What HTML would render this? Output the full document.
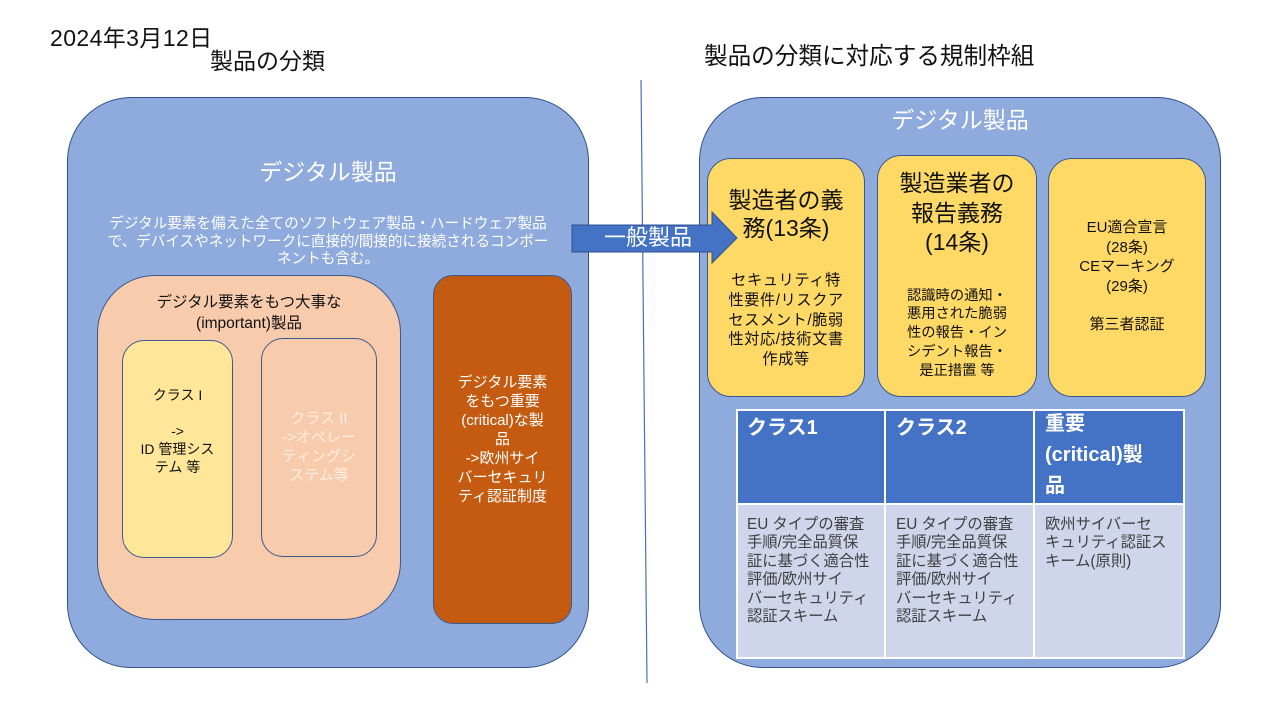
<!DOCTYPE html>
<html>
<head>
<meta charset="utf-8">
<style>
  html, body { margin:0; padding:0; }
  body { width:1280px; height:720px; position:relative; overflow:hidden; background:#ffffff;
         font-family:"Liberation Sans","Noto Sans CJK JP",sans-serif; }
  .abs { position:absolute; box-sizing:border-box; }
  .t { position:absolute; text-align:center; white-space:nowrap; }
  .big { background:#8faadc; border:1px solid #2f528f; border-radius:64px; }
  .ybox { background:#ffd966; border:1px solid #3b5a8c; border-radius:24px; }
  .cell { position:absolute; box-sizing:border-box; }
</style>
</head>
<body>

<!-- titles -->
<div class="t" style="left:50px;top:24px;font-size:23px;line-height:28px;color:#111;letter-spacing:0.4px;">2024年3月12日</div>
<div class="t" style="left:210px;top:47px;font-size:23px;line-height:28px;color:#111;">製品の分類</div>
<div class="t" style="left:704px;top:43px;font-size:23.6px;line-height:28px;color:#111;">製品の分類に対応する規制枠組</div>

<!-- divider line -->
<svg class="abs" style="left:0;top:0;" width="1280" height="720">
  <line x1="641" y1="80" x2="647" y2="683" stroke="#4a72b8" stroke-width="1.2"/>
</svg>

<!-- LEFT BIG BOX -->
<div class="abs big" style="left:67px;top:97px;width:522px;height:571px;"></div>
<div class="t" style="left:67px;width:522px;top:158px;font-size:23px;line-height:28px;color:#fff;">デジタル製品</div>
<div class="t" style="left:67px;width:522px;top:216px;font-size:14.6px;line-height:17.5px;color:#fff;">デジタル要素を備えた全てのソフトウェア製品・ハードウェア製品<br>で、デバイスやネットワークに直接的/間接的に接続されるコンポー<br>ネントも含む。</div>

<!-- peach box -->
<div class="abs" style="left:97px;top:275px;width:304px;height:345px;background:#f8cbad;border:1px solid #3b5a8c;border-radius:58px;"></div>
<div class="t" style="left:97px;width:304px;top:291.5px;font-size:15.5px;line-height:21px;color:#111;">デジタル要素をもつ大事な<br>(important)製品</div>

<!-- class I -->
<div class="abs" style="left:122px;top:340px;width:111px;height:218px;background:#ffe699;border:1px solid #3b5a8c;border-radius:22px;"></div>
<div class="t" style="left:122px;width:111px;top:386px;font-size:14px;line-height:18px;color:#111;">クラス I<br>&nbsp;<br>-&gt;<br>ID 管理シス<br>テム 等</div>

<!-- class II -->
<div class="abs" style="left:261px;top:338px;width:116px;height:219px;background:#f8cbad;border:1px solid #3b5a8c;border-radius:22px;"></div>
<div class="t" style="left:261px;width:116px;top:408.5px;font-size:15px;line-height:19px;color:#fdeee4;">クラス II<br>-&gt;オペレー<br>ティングシ<br>ステム等</div>

<!-- orange critical -->
<div class="abs" style="left:433px;top:275px;width:139px;height:349px;background:#c55a11;border:1px solid #3b5a8c;border-radius:20px;"></div>
<div class="t" style="left:433px;width:139px;top:372.5px;font-size:15px;line-height:19px;color:#fff;">デジタル要素<br>をもつ重要<br>(critical)な製<br>品<br>-&gt;欧州サイ<br>バーセキュリ<br>ティ認証制度</div>

<!-- RIGHT BIG BOX -->
<div class="abs big" style="left:699px;top:97px;width:522px;height:571px;"></div>
<div class="t" style="left:699px;width:522px;top:106px;font-size:23px;line-height:28px;color:#fff;">デジタル製品</div>

<!-- yellow 1 -->
<div class="abs ybox" style="left:707px;top:158px;width:158px;height:239px;"></div>
<div class="t" style="left:707px;width:158px;top:186px;font-size:23px;line-height:28px;color:#111;">製造者の義<br>務(13条)</div>
<div class="t" style="left:707px;width:158px;top:271px;font-size:15.3px;line-height:19.8px;color:#111;letter-spacing:0.5px;">セキュリティ特<br>性要件/リスクア<br>セスメント/脆弱<br>性対応/技術文書<br>作成等</div>

<!-- yellow 2 -->
<div class="abs ybox" style="left:877px;top:155px;width:160px;height:242px;"></div>
<div class="t" style="left:877px;width:160px;top:169px;font-size:23px;line-height:29.5px;color:#111;">製造業者の<br>報告義務<br>(14条)</div>
<div class="t" style="left:877px;width:160px;top:286.5px;font-size:14.3px;line-height:18.8px;color:#111;">認識時の通知・<br>悪用された脆弱<br>性の報告・イン<br>シデント報告・<br>是正措置 等</div>

<!-- yellow 3 -->
<div class="abs ybox" style="left:1048px;top:158px;width:158px;height:239px;"></div>
<div class="t" style="left:1048px;width:158px;top:218.3px;font-size:15px;line-height:19.4px;color:#111;">EU適合宣言<br>(28条)<br>CEマーキング<br>(29条)<br>&nbsp;<br>第三者認証</div>

<!-- TABLE -->
<div class="abs" style="left:736px;top:409px;width:449px;height:250px;background:#ffffff;"></div>
<div class="cell" style="left:738px;top:411px;width:146px;height:92px;background:#4472c4;"></div>
<div class="cell" style="left:886px;top:411px;width:147px;height:92px;background:#4472c4;"></div>
<div class="cell" style="left:1035px;top:411px;width:148px;height:92px;background:#4472c4;"></div>
<div class="cell" style="left:738px;top:505px;width:146px;height:152px;background:#cfd5ea;"></div>
<div class="cell" style="left:886px;top:505px;width:147px;height:152px;background:#cfd5ea;"></div>
<div class="cell" style="left:1035px;top:505px;width:148px;height:152px;background:#cfd5ea;"></div>

<div class="t" style="left:747px;top:413px;text-align:left;font-size:20px;line-height:30px;font-weight:bold;color:#fff;">クラス1</div>
<div class="t" style="left:896px;top:413px;text-align:left;font-size:20px;line-height:30px;font-weight:bold;color:#fff;">クラス2</div>
<div class="t" style="left:1045px;top:409px;text-align:left;font-size:20px;line-height:31px;font-weight:bold;color:#fff;">重要<br>(critical)製<br>品</div>

<div class="t" style="left:747px;top:515.5px;text-align:left;font-size:15.3px;line-height:18.5px;color:#404040;">EU タイプの審査<br>手順/完全品質保<br>証に基づく適合性<br>評価/欧州サイ<br>バーセキュリティ<br>認証スキーム</div>
<div class="t" style="left:896px;top:515.5px;text-align:left;font-size:15.3px;line-height:18.5px;color:#404040;">EU タイプの審査<br>手順/完全品質保<br>証に基づく適合性<br>評価/欧州サイ<br>バーセキュリティ<br>認証スキーム</div>
<div class="t" style="left:1045px;top:515.5px;text-align:left;font-size:15.3px;line-height:18.5px;color:#404040;">欧州サイバーセ<br>キュリティ認証ス<br>キーム(原則)</div>

<!-- ARROW -->
<svg class="abs" style="left:0;top:0;" width="1280" height="720">
  <polygon points="572,225 712,225 712,212 737,238 712,263 712,252 572,252" fill="#4472c4" stroke="#2f528f" stroke-width="1"/>
</svg>
<div class="t" style="left:600px;width:96px;top:224px;font-size:22px;line-height:28px;color:#fff;">一般製品</div>

</body>
</html>
